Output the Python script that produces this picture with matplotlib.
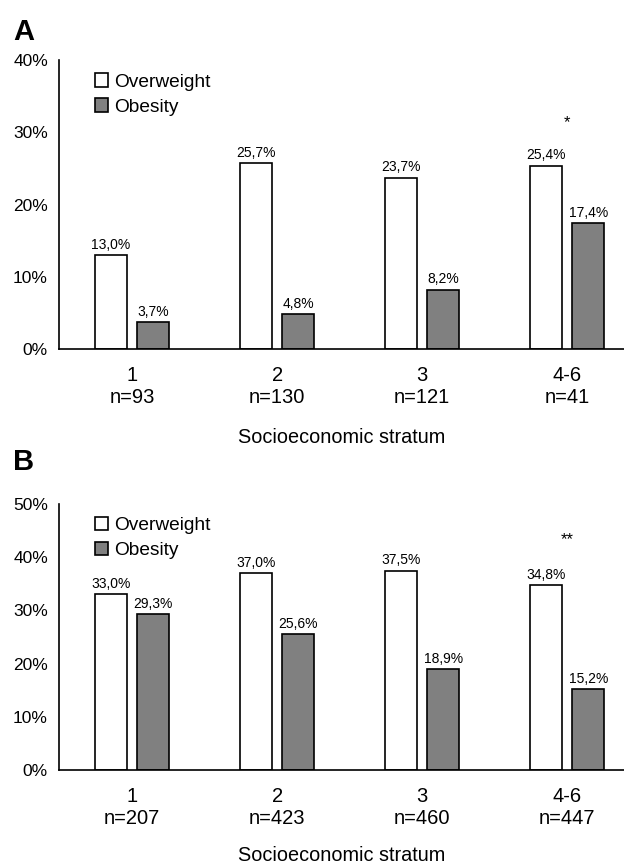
import numpy as np
import matplotlib
matplotlib.use("Agg")
import matplotlib.pyplot as plt

plt.rcParams["font.family"] = ["Liberation Sans", "DejaVu Sans"]

# data
strata = ["1", "2", "3", "4-6"]
n_a = [93, 130, 121, 41]
n_b = [207, 423, 460, 447]
overweight_a = [13.0, 25.7, 23.7, 25.4]
obesity_a = [3.7, 4.8, 8.2, 17.4]
overweight_b = [33.0, 37.0, 37.5, 34.8]
obesity_b = [29.3, 25.6, 18.9, 15.2]
signif_a = "*"
signif_b = "**"

fig = plt.figure(figsize=(6.24, 8.65), dpi=100)
ax_a = fig.add_axes([0.0946, 0.5965, 0.9054, 0.3341])
ax_b = fig.add_axes([0.0946, 0.1098, 0.9054, 0.3075])


def draw_panel(ax, ow, ob, ns, ymax, star, star_y, xlab_pad):
    x = np.arange(len(strata))
    w = 0.22
    off = 0.145
    b1 = ax.bar(x - off, ow, w, color="white", edgecolor="black", linewidth=1.2,
                label="Overweight", zorder=2)
    b2 = ax.bar(x + off, ob, w, color="#808080", edgecolor="black", linewidth=1.2,
                label="Obesity", zorder=2)
    for bars, vals in [(b1, ow), (b2, ob)]:
        for r, v in zip(bars, vals):
            ax.text(r.get_x() + r.get_width() / 2, v + ymax * 0.012,
                    f"{v:.1f}%".replace(".", ","), ha="center", va="bottom",
                    fontsize=10)
    ax.set_xlim(-0.503, 3.39)
    ax.set_ylim(0, ymax)
    ax.set_yticks(np.arange(0, ymax + 1, 10))
    ax.set_yticklabels([f"{int(t)}%" for t in np.arange(0, ymax + 1, 10)])
    ax.set_xticks(x)
    ax.set_xticklabels([f"{s}\nn={n}" for s, n in zip(strata, ns)], linespacing=1.2)
    ax.tick_params(axis="y", length=0, labelsize=12.5, pad=8)
    ax.tick_params(axis="x", length=0, labelsize=14.5, pad=12)
    for s in ["top", "right"]:
        ax.spines[s].set_visible(False)
    ax.spines["left"].set_linewidth(1.2)
    ax.spines["bottom"].set_linewidth(1.2)
    ax.set_xlabel("Socioeconomic stratum", fontsize=14.3, labelpad=xlab_pad)
    ax.text(x[-1], star_y, star, ha="center", va="center", fontsize=12)
    ax.legend(loc="upper left", bbox_to_anchor=(0.05, 0.98), frameon=False,
              fontsize=13.8, handlelength=0.7, handleheight=0.7,
              handletextpad=0.3, labelspacing=0.38, borderaxespad=0)


draw_panel(ax_a, overweight_a, obesity_a, n_a, 40, signif_a, 31.4, 15)
draw_panel(ax_b, overweight_b, obesity_b, n_b, 50, signif_b, 43.4, 13)

fig.text(0.021, 0.963, "A", fontsize=21, fontweight="bold", ha="left", va="center")
fig.text(0.021, 0.466, "B", fontsize=21, fontweight="bold", ha="left", va="center")

fig.savefig("out.png", dpi=100)
